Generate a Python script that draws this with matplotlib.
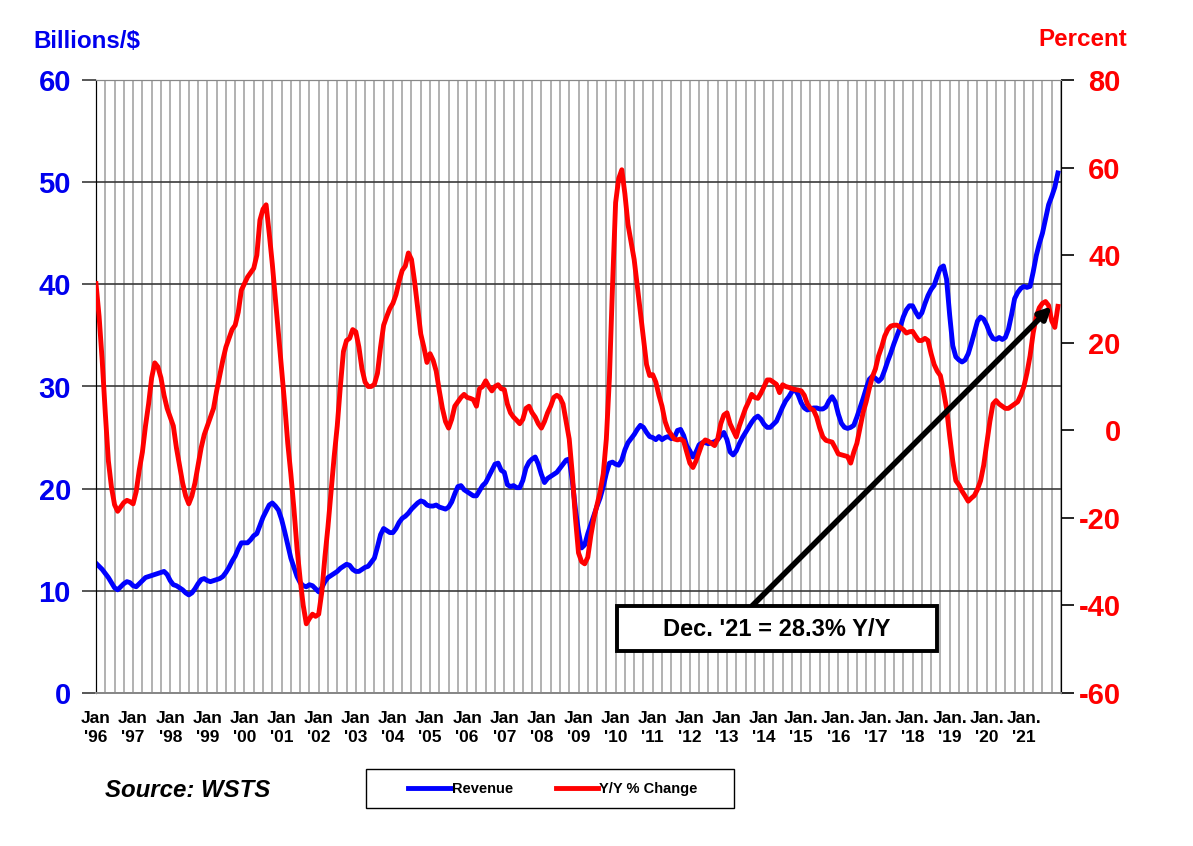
import numpy as np
import matplotlib
matplotlib.use('Agg')
from matplotlib import pyplot as plt
from matplotlib.patches import Rectangle

plt.rcParams['font.family'] = ['Liberation Sans', 'DejaVu Sans']
plt.rcParams['font.weight'] = 'bold'
plt.rcParams['axes.unicode_minus'] = False

# monthly 3MMA revenue, billions $, Jan 1996 .. Dec 2021 (one row per year)
revenue = [
    12.7, 12.4, 12.1, 11.7, 11.3, 10.8, 10.3, 10.1, 10.4, 10.7, 10.9, 10.8,
    10.5, 10.4, 10.7, 11.0, 11.3, 11.4, 11.5, 11.6, 11.7, 11.8, 11.9, 11.6,
    11.0, 10.6, 10.5, 10.3, 10.1, 9.8, 9.6, 9.8, 10.2, 10.7, 11.1, 11.2,
    11.0, 10.9, 11.0, 11.1, 11.2, 11.4, 11.8, 12.3, 12.9, 13.4, 14.1, 14.7,
    14.7, 14.7, 15.0, 15.4, 15.6, 16.4, 17.2, 17.8, 18.4, 18.6, 18.3, 17.9,
    17.0, 15.8, 14.5, 13.2, 12.3, 11.4, 10.8, 10.5, 10.4, 10.6, 10.5, 10.2,
    9.9, 10.3, 10.9, 11.3, 11.5, 11.7, 11.9, 12.2, 12.4, 12.6, 12.5, 12.1,
    11.9, 11.9, 12.1, 12.3, 12.4, 12.8, 13.2, 14.3, 15.5, 16.1, 15.9, 15.7,
    15.7, 16.1, 16.7, 17.1, 17.3, 17.6, 18.0, 18.3, 18.6, 18.8, 18.7, 18.4,
    18.3, 18.3, 18.4, 18.2, 18.1, 18.0, 18.2, 18.7, 19.5, 20.2, 20.3, 19.9,
    19.7, 19.5, 19.3, 19.3, 19.8, 20.3, 20.6, 21.2, 21.8, 22.4, 22.5, 21.8,
    21.6, 20.4, 20.2, 20.3, 20.1, 20.1, 20.8, 22.0, 22.6, 22.9, 23.1, 22.4,
    21.4, 20.6, 21.0, 21.2, 21.4, 21.6, 22.0, 22.4, 22.8, 22.9, 20.8, 18.0,
    15.8, 14.2, 14.5, 15.6, 16.5, 17.4, 18.3, 19.1, 20.2, 21.5, 22.5, 22.6,
    22.4, 22.3, 22.8, 23.8, 24.5, 24.9, 25.3, 25.8, 26.2, 26.0, 25.5, 25.1,
    25.0, 24.8, 25.1, 24.8, 25.0, 25.1, 24.9, 25.0, 25.7, 25.8, 25.2, 24.2,
    23.7, 23.1, 23.6, 24.3, 24.5, 24.5, 24.4, 24.5, 24.6, 24.8, 25.2, 25.5,
    24.8, 23.6, 23.3, 23.7, 24.4, 25.0, 25.5, 26.0, 26.5, 26.9, 27.1, 26.8,
    26.3, 26.0, 26.0, 26.3, 26.6, 27.3, 28.0, 28.6, 29.0, 29.5, 29.7, 29.2,
    28.4, 27.9, 27.7, 27.8, 27.9, 27.9, 27.8, 27.8, 28.0, 28.6, 29.0, 28.5,
    27.3, 26.4, 26.0, 25.9, 26.0, 26.2, 27.0, 27.9, 28.8, 29.8, 30.7, 31.0,
    30.8, 30.5, 30.8, 31.6, 32.5, 33.3, 34.2, 35.0, 35.8, 36.8, 37.5, 37.9,
    37.9, 37.3, 36.8, 37.2, 38.1, 38.9, 39.5, 39.9, 40.8, 41.6, 41.8, 40.5,
    37.0, 34.0, 32.9, 32.6, 32.4, 32.6, 33.2, 34.2, 35.3, 36.4, 36.8, 36.6,
    36.0, 35.2, 34.7, 34.6, 34.8, 34.6, 34.8, 35.6, 37.0, 38.6, 39.2, 39.6,
    39.8, 39.7, 39.8, 41.2, 42.8, 44.0, 45.0, 46.4, 47.8, 48.6, 49.5, 50.9,
]

# year over year % change, same months
yoy = [
    33.5, 26, 16, 4, -7, -13, -17, -18.5, -17.5, -16.5, -16, -16.3,
    -16.8, -14, -9, -5, 1, 6, 12, 15.4, 14.5, 12, 8, 5,
    3, 1, -4, -8, -12, -15, -16.8, -15, -12, -8, -4, -1,
    1, 3, 5, 9, 12.5, 16, 19, 21, 23, 24, 27, 32,
    33.5, 35, 36, 37, 40, 48, 50.5, 51.5, 45, 38, 30, 22,
    14, 6, -3, -10, -18, -27, -34, -40, -44.2, -43, -42, -42.5,
    -42, -37, -29, -22, -14, -6, 1, 10, 18, 20.5, 21, 23,
    22.5, 19, 14, 11, 10, 10, 10.5, 13, 19, 24, 26, 27.8,
    29, 31, 34, 36.5, 37.5, 40.5, 39, 34, 28, 22, 19, 15.5,
    17.5, 16, 13.5, 9, 5, 2, 0.5, 2.5, 5.5, 6.5, 7.5, 8.2,
    7.5, 7.3, 7, 5.5, 9.5, 10, 11.3, 10, 9, 10, 10.4, 9.5,
    9.3, 6, 4, 3, 2.3, 1.5, 2.5, 5, 5.5, 4, 3, 1.5,
    0.5, 2, 4, 5.5, 7.5, 8, 7.5, 6, 2, -2, -10, -20,
    -28, -30, -30.5, -29, -24, -20, -17, -14, -10, -2, 12, 33,
    52, 57.5, 59.5, 54, 47, 43, 39, 33, 27, 21, 15, 12.5,
    12.7, 11, 8, 5.5, 2, 0, -1, -2, -2.2, -2, -2.5, -5,
    -7.5, -8.5, -7, -5, -3, -2.2, -2.5, -3, -3.5, -2, 1.5, 3.5,
    4, 1.5, 0, -1.5, 1, 3, 5, 6.5, 8.2, 7.5, 7.3, 8.5,
    10, 11.5, 11.5, 11, 10.5, 8.6, 10.4, 10, 9.8, 9.5, 9.3, 9.2,
    9, 8, 6, 5, 4.6, 3, 0.5, -1.5, -2.3, -2.5, -2.7, -4,
    -5.4, -5.6, -5.8, -6, -7.5, -5, -3, 0.5, 4, 6.5, 9.5, 12.2,
    14, 17, 19, 21.5, 23, 23.8, 24, 24, 23.5, 23, 22.2, 22.5,
    22.6, 21.5, 20.5, 20.5, 21, 20.5, 17.5, 15, 13.5, 12.5, 9, 5,
    -1.3, -7, -11.5, -12.5, -13.9, -15, -16.2, -15.5, -14.9, -13.5, -11.5, -8,
    -3, 2, 6, 6.8, 6, 5.5, 5, 5, 5.5, 6, 6.5, 8,
    10, 13.1, 17, 22.2, 26, 28, 29, 29.4, 28.5, 25, 23.5, 28.3,
]

years = list(range(1996, 2022))
tick_labels = [("Jan.\n'%02d" if y >= 2015 else "Jan\n'%02d") % (y % 100) for y in years]

months = np.arange(len(revenue))

W, H = 1193, 846
fig = plt.figure(figsize=(W / 100, H / 100), dpi=100)
ax = fig.add_axes([96 / W, 1 - 693 / H, (1061 - 96) / W, (693 - 80) / H])
ax2 = ax.twinx()

ax.set_xlim(0, 312)
ax.set_ylim(0, 60)
ax2.set_ylim(-60, 80)

# quarterly vertical grid
ax.set_xticks(np.arange(0, 313, 3), minor=True)
ax.set_xticks(np.arange(0, len(years) * 12, 12))
ax.set_xticklabels(tick_labels, fontsize=12.5, fontweight='bold', linespacing=1.3)
ax.grid(True, axis='x', which='both', color='#a0a0a0', lw=1.15, zorder=0)
ax.tick_params(axis='x', which='both', length=0, pad=13)

ax.set_yticks(range(0, 61, 10))
ax.grid(True, axis='y', color='#3a3a3a', lw=1.2)
ax.tick_params(axis='y', length=10, width=1.2, color='#3a3a3a', pad=8,
               labelsize=21, labelcolor='#0000EE')
for t in ax.get_yticklabels():
    t.set_fontweight('bold')

ax2.set_yticks(range(-60, 81, 20))
ax2.tick_params(axis='y', length=9, width=1.2, pad=34, labelsize=21, labelcolor='#FF0000')
for t in ax2.get_yticklabels():
    t.set_fontweight('bold')
    t.set_horizontalalignment('right')

for a in (ax, ax2):
    a.spines['left'].set_color('black')
    a.spines['right'].set_color('black')
    a.spines['top'].set_color('#888888')
    a.spines['bottom'].set_color('#888888')
    a.spines['bottom'].set_linewidth(1.4)

l1, = ax.plot(months, revenue, color='#0000FF', lw=3.5, label='Revenue', zorder=3)
l2, = ax2.plot(months, yoy, color='#FF0000', lw=3.5, label='Y/Y % Change', zorder=3)

# callout box + arrow to the last month
fig.patches.append(Rectangle((617 / W, 1 - 651 / H), 320 / W, 45 / H,
                             transform=fig.transFigure, fc='white', ec='black',
                             lw=2.8, zorder=20))
fig.text(777 / W, 1 - 629 / H, "Dec. '21 = %.1f%% Y/Y" % yoy[-1], ha='center',
         va='center', fontsize=17, fontweight='bold', zorder=21)
ax2.annotate('', xy=(months[-1] - 2, yoy[-1]), xytext=(752 / W, 1 - 606 / H),
             textcoords='figure fraction',
             arrowprops=dict(arrowstyle='-|>,head_length=0.7,head_width=0.35',
                             color='black', lw=4, shrinkA=0, shrinkB=0),
             zorder=5)

fig.text(0.028, 0.951, 'Billions/$', color='#0000EE', fontsize=17.4, fontweight='bold',
         va='center')
fig.text(0.870, 0.953, 'Percent', color='#FF0000', fontsize=17.4, fontweight='bold',
         va='center')
fig.text(0.088, 0.066, 'Source: WSTS', fontsize=17.3, fontweight='bold',
         fontstyle='italic', va='center')

# legend in a plain black box
fig.patches.append(Rectangle((366 / W, 1 - 808 / H), 368 / W, 39 / H,
                             transform=fig.transFigure, fc='white', ec='black',
                             lw=1.0, zorder=1))
leg = fig.legend([l1, l2], ['Revenue', 'Y/Y % Change'], ncol=2,
                 loc='center', bbox_to_anchor=(553 / W, 1 - 789 / H),
                 frameon=False, prop={'weight': 'bold', 'size': 10.5},
                 handlelength=2.9, handletextpad=0.1, columnspacing=2.9)
leg.set_zorder(10)

fig.savefig('out.png', dpi=100)
